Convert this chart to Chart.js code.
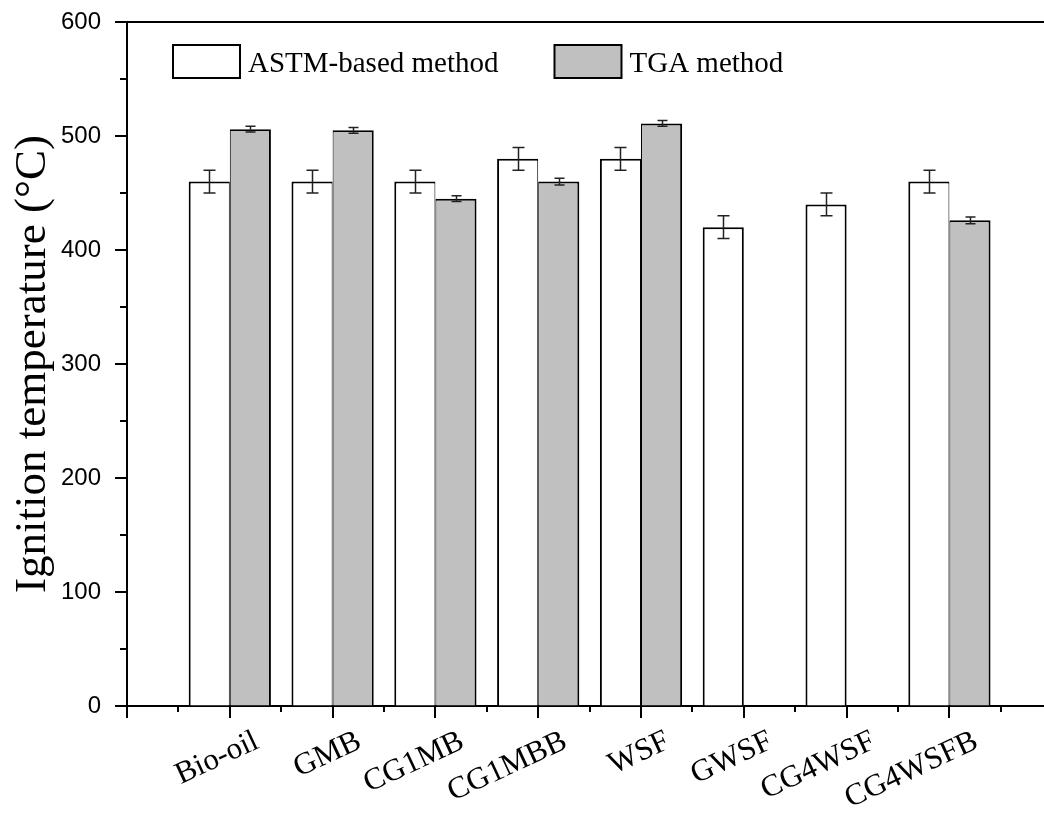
<!DOCTYPE html>
<html>
<head>
<meta charset="utf-8">
<script src="https://cdn.jsdelivr.net/npm/chart.js@4.4.1/dist/chart.umd.min.js"></script>
<style>
  html, body { margin: 0; padding: 0; background: #fff; }
  #wrap { width: 1044px; height: 814px; }
</style>
</head>
<body>
<div id="wrap"><canvas id="chartIgnition"></canvas></div>
<script>
// Data
const categories = ["Bio-oil", "GMB", "CG1MB", "CG1MBB", "WSF", "GWSF", "CG4WSF", "CG4WSFB"];
const astmValues = [460, 460, 460, 480, 480, 420, 440, 460];
const astmErrors = [10, 10, 10, 10, 10, 10, 10, 10];
const tgaValues = [506, 505, 445, 460, 511, null, null, 426];
const tgaErrors = [2.5, 2.5, 2.5, 3, 2.5, null, null, 3];
const seriesLabels = ["ASTM-based method", "TGA method"];

const serif = "'Liberation Serif', 'Times New Roman', serif";
const sans = "'Liberation Sans', Arial, sans-serif";

// bars sit on x = 1..n of a linear axis
const toPoints = (vals) => vals.map((v, i) => ({ x: i + 1, y: v }));

// 2px outer borders, but the shared side of a pair only gets 1px each
function astmBorder(ctx) {
  const pair = tgaValues[ctx.dataIndex] != null;
  return { top: 2, left: 2, right: pair ? 1 : 2, bottom: 0 };
}
function tgaBorder() {
  return { top: 2, left: 1, right: 2, bottom: 0 };
}

// === error bars ===
const errorBars = {
  id: "errorBars",
  afterDatasetsDraw(chart) {
    const { ctx, scales: { y } } = chart;
    const errs = [astmErrors, tgaErrors];
    const caps = [6, 5];
    ctx.save();
    ctx.strokeStyle = "#222";
    ctx.lineWidth = 1.5;
    chart.data.datasets.forEach((ds, di) => {
      const meta = chart.getDatasetMeta(di);
      meta.data.forEach((bar, i) => {
        const v = ds.data[i].y;
        const e = errs[di][i];
        if (v == null || e == null) return;
        const x = Math.round(bar.x) + 0.5;
        const top = y.getPixelForValue(v + e);
        const bot = y.getPixelForValue(v - e);
        ctx.beginPath();
        ctx.moveTo(x, top); ctx.lineTo(x, bot);
        ctx.moveTo(x - caps[di], top); ctx.lineTo(x + caps[di], top);
        ctx.moveTo(x - caps[di], bot); ctx.lineTo(x + caps[di], bot);
        ctx.stroke();
      });
    });
    ctx.restore();
  }
};

// === frame + tick marks (major / minor) ===
const axisTicks = {
  id: "axisTicks",
  afterDraw(chart) {
    const { ctx, chartArea, scales: { x, y } } = chart;
    ctx.save();
    ctx.strokeStyle = "#000";
    ctx.lineWidth = 2;
    ctx.beginPath();
    ctx.moveTo(chartArea.left, chartArea.top);
    ctx.lineTo(chartArea.right, chartArea.top);
    for (let v = y.min; v <= y.max; v += 50) {
      const py = Math.round(y.getPixelForValue(v));
      const len = v % 100 === 0 ? 12 : 7;
      ctx.moveTo(chartArea.left, py);
      ctx.lineTo(chartArea.left - len, py);
    }
    for (let v = 0; v <= categories.length + 0.5; v += 0.5) {
      const px = Math.round(x.getPixelForValue(v));
      if (px > chartArea.right) break;
      const len = v % 1 === 0 ? 12 : 6;
      ctx.moveTo(px, chartArea.bottom);
      ctx.lineTo(px, chartArea.bottom + len);
    }
    ctx.stroke();
    ctx.restore();
  }
};

// === legend inside the plot ===
const innerLegend = {
  id: "innerLegend",
  afterDraw(chart) {
    const { ctx, chartArea } = chart;
    const boxW = 67, boxH = 33;
    let bx = chartArea.left + 46;
    const by = chartArea.top + 23;
    ctx.save();
    ctx.font = "29px " + serif;
    ctx.textBaseline = "alphabetic";
    chart.data.datasets.forEach((ds) => {
      ctx.fillStyle = ds.backgroundColor;
      ctx.fillRect(bx, by, boxW, boxH);
      ctx.strokeStyle = "#000";
      ctx.lineWidth = 2;
      ctx.strokeRect(bx, by, boxW, boxH);
      ctx.fillStyle = "#000";
      const tx = bx + boxW + 8;
      ctx.fillText(ds.label, tx, by + boxH / 2 + 10);
      bx = tx + ctx.measureText(ds.label).width + 56;
    });
    ctx.restore();
  }
};

new Chart(document.getElementById("chartIgnition"), {
  type: "bar",
  data: {
    datasets: [
      {
        label: seriesLabels[0],
        data: toPoints(astmValues),
        backgroundColor: "#ffffff",
        borderColor: "#000000",
        borderWidth: astmBorder,
        borderSkipped: false,
        categoryPercentage: 0.8,
        barPercentage: 1.0
      },
      {
        label: seriesLabels[1],
        data: toPoints(tgaValues),
        backgroundColor: "#c0c0c0",
        borderColor: "#000000",
        borderWidth: tgaBorder,
        borderSkipped: false,
        categoryPercentage: 0.8,
        barPercentage: 1.0
      }
    ]
  },
  options: {
    responsive: true,
    maintainAspectRatio: false,
    animation: false,
    layout: { padding: { top: 22, right: 0, left: 0, bottom: 0 } },
    plugins: {
      legend: { display: false },
      tooltip: { enabled: false }
    },
    scales: {
      x: {
        type: "linear",
        min: 0,
        max: 8.92,
        offset: false,
        grid: { display: true, offset: false, drawOnChartArea: false, tickLength: 12, tickColor: "rgba(0,0,0,0)" },
        border: { display: true, color: "#000", width: 2 },
        ticks: {
          stepSize: 1,
          includeBounds: false,
          autoSkip: false,
          minRotation: 25,
          maxRotation: 25,
          labelOffset: 27,
          padding: 5,
          color: "#000",
          font: { family: serif, size: 31 },
          callback: (v) => (Number.isInteger(v) && v >= 1 && v <= categories.length) ? categories[v - 1] : ""
        },
        afterFit: (scale) => {
          scale.height = 108;
          scale.paddingLeft = 0;
          scale.paddingRight = 0;
        }
      },
      y: {
        min: 0,
        max: 600,
        grid: { display: true, drawOnChartArea: false, tickLength: 12, tickColor: "rgba(0,0,0,0)" },
        border: { display: true, color: "#000", width: 2 },
        ticks: {
          stepSize: 100,
          padding: 14,
          color: "#000",
          font: { family: sans, size: 24 }
        },
        title: {
          display: true,
          text: "Ignition temperature (°C)",
          color: "#000",
          font: { family: serif, size: 45, weight: "normal" },
          padding: { top: 6, bottom: 0 }
        },
        afterFit: (scale) => {
          scale.width = 127;
          scale.paddingTop = 0;
          scale.paddingBottom = 0;
        }
      }
    }
  },
  plugins: [errorBars, axisTicks, innerLegend]
});
</script>
</body>
</html>
